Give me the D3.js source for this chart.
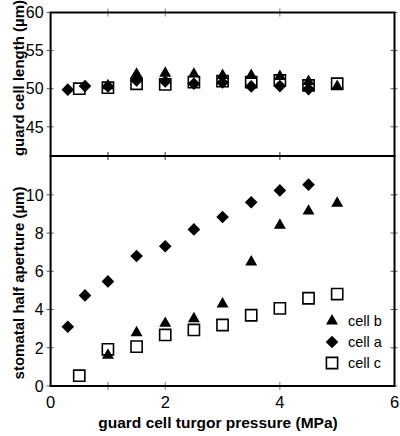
<!DOCTYPE html>
<html><head><meta charset="utf-8">
<script src="https://cdn.jsdelivr.net/npm/d3@7"></script>
<style>body{margin:0;background:#fff}svg{display:block}text{font-family:"Liberation Sans",Arial,sans-serif}</style>
</head><body><svg id="c" width="400" height="436"></svg>
<script>
// pressure (MPa)
const pA = [0.3, 0.6, 1.0, 1.5, 2.0, 2.5, 3.0, 3.5, 4.0, 4.5];
const pB = [1.0, 1.5, 2.0, 2.5, 3.0, 3.5, 4.0, 4.5, 5.0];
const pC = [0.5, 1.0, 1.5, 2.0, 2.5, 3.0, 3.5, 4.0, 4.5, 5.0];
// guard cell length (µm)
const lenA = [49.87, 50.34, 50.3, 51.08, 50.95, 50.65, 50.82, 50.30, 50.34, 49.95];
const lenB = [50.52, 52.04, 52.17, 52.04, 51.87, 51.87, 51.73, 51.08, 50.43];
const lenC = [50.0, 50.13, 50.65, 50.56, 50.86, 50.99, 50.86, 51.08, 50.43, 50.65];
// stomatal half aperture (µm)
const apA = [3.10, 4.74, 5.47, 6.80, 7.31, 8.19, 8.84, 9.61, 10.23, 10.53];
const apB = [1.66, 2.84, 3.33, 3.57, 4.34, 6.54, 8.46, 9.20, 9.61];
const apC = [0.54, 1.92, 2.06, 2.67, 2.93, 3.19, 3.70, 4.06, 4.59, 4.81];
const xTicks = [0, 2, 4, 6];
const xMinorTicks = [1, 2, 4];
const topTicks = [45, 50, 55, 60];
const botTicks = [0, 2, 4, 6, 8, 10];
const legendNames = ["cell b", "cell a", "cell c"];

const svg = d3.select("#c");
const L = 50.6, R = 394.5, T = 12.5, M = 156, B = 386;
const x = d3.scaleLinear().domain([0, 6]).range([L, R]);
const yT = d3.scaleLinear().domain([41.17, 60]).range([M, T]);
const yB = d3.scaleLinear().domain([0, 12.03]).range([B, M]);

const tri = d3.symbol().type(d3.symbolTriangle).size(62)();
const dia = d3.symbol().type(d3.symbolSquare).size(80)();
const sq = d3.symbol().type(d3.symbolSquare).size(125)();

function panel(y, ticks) {
  const g = svg.append("g");
  ticks.forEach(t => {
    g.append("line").attr("x1", L - 4).attr("x2", L + 3).attr("y1", y(t)).attr("y2", y(t)).attr("stroke", "#333").attr("stroke-width", 0.8);
    g.append("line").attr("x1", R - 4).attr("x2", R + 3).attr("y1", y(t)).attr("y2", y(t)).attr("stroke", "#333").attr("stroke-width", 0.8);
  });
  const y0 = y.range()[0], y1 = y.range()[1];
  xMinorTicks.forEach(t => {
    [y0, y1].forEach(yy => {
      g.append("line").attr("x1", x(t)).attr("x2", x(t)).attr("y1", yy - 4).attr("y2", yy + 4).attr("stroke", "#555").attr("stroke-width", 0.8);
    });
  });
  g.append("rect").attr("x", L).attr("y", y1).attr("width", R - L).attr("height", y0 - y1)
    .attr("fill", "none").attr("stroke", "#000").attr("stroke-width", 2);
  g.selectAll("text.tl").data(ticks).enter().append("text")
    .attr("x", L - 7).attr("y", d => y(d)).attr("dy", "0.36em")
    .attr("text-anchor", "end").attr("font-size", 16).text(d => d);
  return g;
}

function marks(y, pa, va, pb, vb, pc, vc) {
  const g = svg.append("g");
  pc.forEach((p, i) => g.append("path").attr("d", sq).attr("transform", `translate(${x(p)},${y(vc[i])})`)
    .attr("fill", "none").attr("stroke", "#000").attr("stroke-width", 1.6));
  pa.forEach((p, i) => g.append("path").attr("d", dia).attr("transform", `translate(${x(p)},${y(va[i])}) rotate(45)`).attr("fill", "#000"));
  pb.forEach((p, i) => g.append("path").attr("d", tri).attr("transform", `translate(${x(p)},${y(vb[i]) + 1})`).attr("fill", "#000"));
}

panel(yT, topTicks);
panel(yB, botTicks);
marks(yT, pA, lenA, pB, lenB, pC, lenC);
marks(yB, pA, apA, pB, apB, pC, apC);

svg.selectAll("text.xl").data(xTicks).enter().append("text")
  .attr("x", d => x(d)).attr("y", 408).attr("text-anchor", "middle").attr("font-size", 16.5).text(d => d);

svg.append("text").attr("x", 218).attr("y", 428).attr("text-anchor", "middle")
  .attr("font-size", 15.5).attr("font-weight", "bold").text("guard cell turgor pressure (MPa)");
svg.append("text").attr("transform", `translate(24,78) rotate(-90)`).attr("text-anchor", "middle")
  .attr("font-size", 15).attr("font-weight", "bold").text("guard cell length (µm)");
svg.append("text").attr("transform", `translate(24,283) rotate(-90)`).attr("text-anchor", "middle")
  .attr("font-size", 15).attr("font-weight", "bold").text("stomatal half aperture (µm)");

const lg = svg.append("g");
const ly = [321, 342, 363];
const legShapes = [
  (g) => g.append("path").attr("d", tri).attr("fill", "#000"),
  (g) => g.append("path").attr("d", dia).attr("transform", "rotate(45)").attr("fill", "#000"),
  (g) => g.append("path").attr("d", sq).attr("fill", "none").attr("stroke", "#000").attr("stroke-width", 1.6)
];
legendNames.forEach((n, i) => {
  const gi = lg.append("g").attr("transform", `translate(332,${ly[i]})`);
  legShapes[i](gi);
  lg.append("text").attr("x", 348).attr("y", ly[i]).attr("dy", "0.36em").attr("font-size", 14.5).text(n);
});
</script></body></html>
